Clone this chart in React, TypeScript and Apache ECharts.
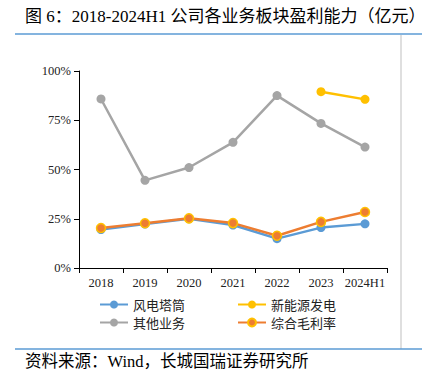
import React, { useEffect, useRef } from "react";
import * as echarts from "echarts";

const categories = ["2018", "2019", "2020", "2021", "2022", "2023", "2024H1"];
const towerValues = [19.5, 22.3, 25.0, 21.8, 14.9, 20.5, 22.4];
const newEnergyValues: (number | null)[] = [null, null, null, null, null, 89.5, 85.6];
const otherValues = [85.8, 44.5, 51.0, 63.8, 87.5, 73.4, 61.4];
const grossValues = [20.3, 22.7, 25.2, 22.8, 16.4, 23.4, 28.4];
const yTicks = [0, 25, 50, 75, 100];

const serif = "'Times New Roman', 'Liberation Serif', 'Noto Sans CJK SC', serif";
const cjk = "'Noto Sans CJK SC', sans-serif";

export default function App() {
  const ref = useRef<HTMLDivElement>(null);
  useEffect(() => {
    if (!ref.current) return;
    const chart = echarts.init(ref.current, null, { renderer: "svg" });
    const mk = (name: string, data: (number | null)[], color: string, border?: string) => ({
      name,
      type: "line",
      data,
      symbol: "circle",
      symbolSize: 9,
      connectNulls: false,
      lineStyle: { color, width: 2.5 },
      itemStyle: { color, borderColor: border || color, borderWidth: border ? 1.5 : 0 },
    });
    chart.setOption({
      animation: false,
      backgroundColor: "#fff",
      grid: { left: 79, right: 42, top: 71, bottom: 112 },
      xAxis: {
        type: "category",
        data: categories,
        boundaryGap: true,
        axisLine: { lineStyle: { color: "#000", width: 1 } },
        axisTick: { show: true, alignWithLabel: false, interval: 0, length: 5, inside: false, lineStyle: { color: "#000" } },
        axisLabel: { color: "#222", fontFamily: serif, fontSize: 12.5, margin: 9, interval: 0 },
      },
      yAxis: {
        type: "value",
        min: 0,
        max: 100,
        interval: 25,
        axisLine: { show: true, lineStyle: { color: "#000", width: 1 } },
        axisTick: { show: true, length: 5, lineStyle: { color: "#000" } },
        splitLine: { show: false },
        axisLabel: {
          color: "#222",
          fontFamily: serif,
          fontSize: 12.5,
          margin: 8,
          formatter: (v: number) => (yTicks.includes(v) ? v + "%" : ""),
        },
      },
      legend: [
        {
          left: 94,
          top: 293,
          orient: "vertical",
          itemWidth: 28,
          itemHeight: 10,
          itemGap: 5,
          data: ["风电塔筒", "其他业务"],
          textStyle: { fontFamily: cjk, fontSize: 13, color: "#222" },
        },
        {
          left: 232,
          top: 293,
          orient: "vertical",
          itemWidth: 28,
          itemHeight: 10,
          itemGap: 5,
          data: ["新能源发电", "综合毛利率"],
          textStyle: { fontFamily: cjk, fontSize: 13, color: "#222" },
        },
      ],
      series: [
        mk("风电塔筒", towerValues, "#5B9BD5"),
        mk("新能源发电", newEnergyValues, "#FFC000"),
        mk("其他业务", otherValues, "#A5A5A5"),
        mk("综合毛利率", grossValues, "#ED7D31", "#FFC000"),
      ],
      graphic: [
        {
          type: "text",
          left: 25,
          top: 8,
          style: {
            text: "图 6：2018-2024H1 公司各业务板块盈利能力（亿元）",
            fontFamily: serif,
            fontSize: 17,
            fill: "#000",
          },
        },
        { type: "line", shape: { x1: 15, y1: 34, x2: 422, y2: 34 }, style: { stroke: "#5B9BD5", lineWidth: 1.5 } },
        { type: "line", shape: { x1: 401, y1: 35, x2: 401, y2: 349 }, style: { stroke: "#BFBFBF", lineWidth: 1 } },
        { type: "line", shape: { x1: 15, y1: 349, x2: 422, y2: 349 }, style: { stroke: "#5B9BD5", lineWidth: 1.5 } },
        {
          type: "text",
          left: 25,
          top: 353,
          style: {
            text: "资料来源：Wind，长城国瑞证券研究所",
            fontFamily: serif,
            fontSize: 16.5,
            fill: "#000",
          },
        },
      ],
    });
    return () => chart.dispose();
  }, []);
  return <div ref={ref} style={{ position: "absolute", left: 0, top: 0, width: 429, height: 380 }} />;
}
